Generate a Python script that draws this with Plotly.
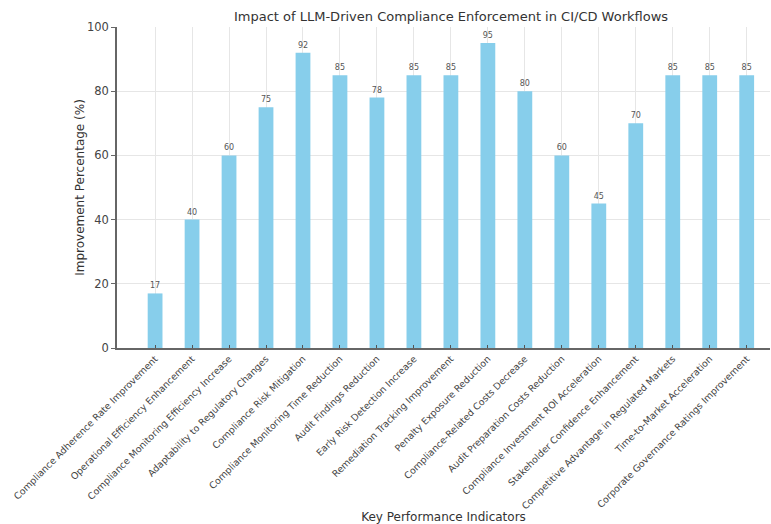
import plotly.graph_objects as go

# Key performance indicators and their improvement percentages
indicators = [
    "Compliance Adherence Rate Improvement",
    "Operational Efficiency Enhancement",
    "Compliance Monitoring Efficiency Increase",
    "Adaptability to Regulatory Changes",
    "Compliance Risk Mitigation",
    "Compliance Monitoring Time Reduction",
    "Audit Findings Reduction",
    "Early Risk Detection Increase",
    "Remediation Tracking Improvement",
    "Penalty Exposure Reduction",
    "Compliance-Related Costs Decrease",
    "Audit Preparation Costs Reduction",
    "Compliance Investment ROI Acceleration",
    "Stakeholder Confidence Enhancement",
    "Competitive Advantage in Regulated Markets",
    "Time-to-Market Acceleration",
    "Corporate Governance Ratings Improvement",
]
improvement = [17, 40, 60, 75, 92, 85, 78, 85, 85, 95, 80, 60, 45, 70, 85, 85, 85]
y_ticks = [0, 20, 40, 60, 80, 100]

FONT = "DejaVu Sans"

fig = go.Figure(
    go.Bar(
        x=indicators,
        y=improvement,
        width=0.4,
        marker=dict(color="#87CEEB", line=dict(width=0)),
        text=[str(v) for v in improvement],
        textposition="outside",
        textfont=dict(family=FONT, size=8, color="#555555"),
        cliponaxis=False,
    )
)

fig.update_layout(
    width=771,
    height=524,
    margin=dict(l=117, r=1, t=27, b=176),
    paper_bgcolor="white",
    plot_bgcolor="white",
    font=dict(family=FONT, color="#333333"),
    showlegend=False,
    title=dict(
        text="Impact of LLM-Driven Compliance Enforcement in CI/CD Workflows",
        x=0.585,
        xanchor="center",
        y=0.968,
        yanchor="middle",
        font=dict(family=FONT, size=13, color="#333333"),
    ),
)

fig.update_xaxes(
    automargin=False,
    range=[-1.03, 16.63],
    tickangle=-45,
    tickfont=dict(family=FONT, size=9.4, color="#444444"),
    showgrid=True,
    gridcolor="#e6e6e6",
    gridwidth=1,
    showline=True,
    linecolor="#666666",
    linewidth=1.5,
    ticks="inside",
    ticklen=3,
    tickcolor="#555555",
    title=dict(
        text="Key Performance Indicators",
        font=dict(family=FONT, size=12, color="#333333"),
        standoff=2,
    ),
)

fig.update_yaxes(
    automargin=False,
    range=[0, 100],
    tickvals=y_ticks,
    tickfont=dict(family=FONT, size=11.5, color="#444444"),
    showgrid=True,
    gridcolor="#e6e6e6",
    gridwidth=1,
    zeroline=False,
    showline=True,
    linecolor="#666666",
    linewidth=1.5,
    ticks="outside",
    ticklen=4,
    tickcolor="#666666",
    title=dict(
        text="Improvement Percentage (%)",
        font=dict(family=FONT, size=12, color="#333333"),
        standoff=0,
    ),
)

fig.write_html("out.html")
